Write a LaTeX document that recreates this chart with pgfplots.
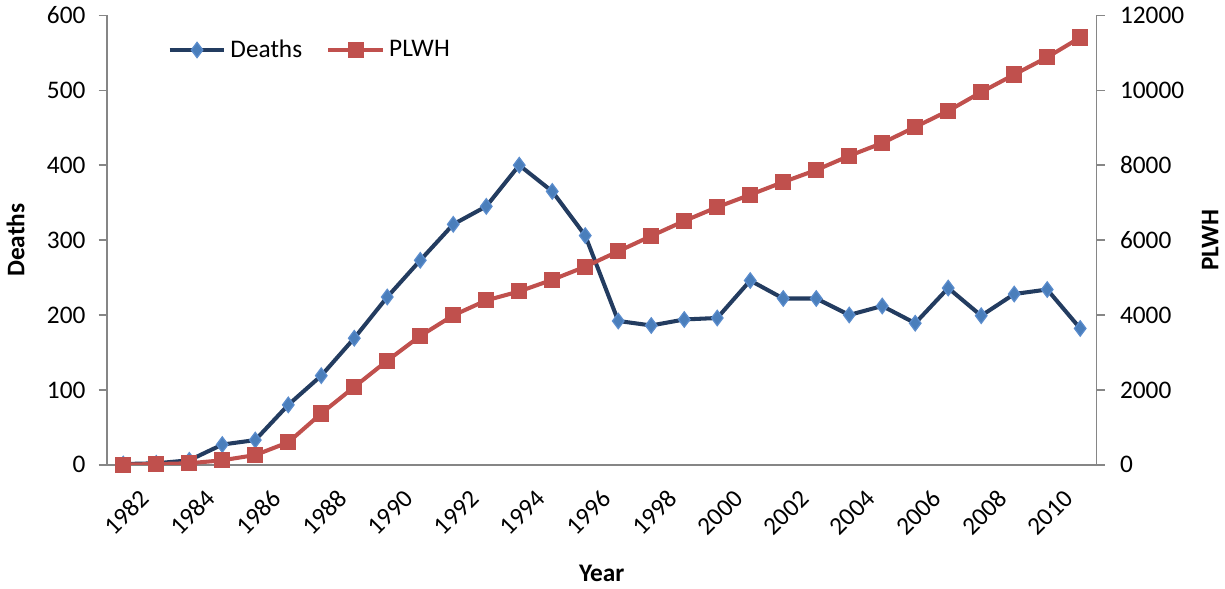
\documentclass[border=0pt]{standalone}
\usepackage{fontspec}
\setmainfont{Carlito}
\usepackage{pgfplots}
\pgfplotsset{compat=1.18}

\definecolor{deathline}{RGB}{35,60,96}
\definecolor{deathmark}{RGB}{74,126,187}
\definecolor{deathedge}{RGB}{90,140,205}
\definecolor{plwhred}{RGB}{192,80,77}
\definecolor{axisgray}{RGB}{134,134,134}

% Deaths (left axis)
\pgfplotstableread{
year deaths
1982 1
1983 2
1984 6
1985 27
1986 33
1987 80
1988 119
1989 169
1990 224
1991 273
1992 321
1993 345
1994 400
1995 365
1996 306
1997 192
1998 186
1999 194
2000 196
2001 246
2002 222
2003 222
2004 200
2005 212
2006 189
2007 236
2008 199
2009 228
2010 234
2011 182
}\deathsdata

% People living with HIV (right axis)
\pgfplotstableread{
year plwh
1982 5
1983 20
1984 40
1985 120
1986 260
1987 600
1988 1370
1989 2080
1990 2780
1991 3440
1992 3990
1993 4390
1994 4630
1995 4940
1996 5290
1997 5700
1998 6110
1999 6510
2000 6880
2001 7210
2002 7550
2003 7870
2004 8250
2005 8590
2006 9020
2007 9450
2008 9950
2009 10420
2010 10880
2011 11410
}\plwhdata

\pgfplotsset{
  common/.style={
    width=489pt, height=222pt, scale only axis,
    xmin=1981.5, xmax=2011.5,
    tick align=outside,
    major tick length=4pt, minor tick length=4pt,
    axis line style={draw=axisgray, line width=0.75pt},
    every tick/.style={draw=axisgray, line width=0.75pt},
    tick label style={font=\fontsize{12.5}{15}\selectfont},
    label style={font=\fontsize{12.5}{15}\selectfont\bfseries},
    /pgf/number format/assume math mode=true,
    /pgf/number format/1000 sep={},
  },
}

\begin{document}
\begin{tikzpicture}
\begin{axis}[common,
  axis x line*=bottom, axis y line*=left,
  ymin=0, ymax=600, ytick={0,100,...,600},
  xtick={1982,1984,...,2010},
  xticklabels={1982,1984,1986,1988,1990,1992,1994,1996,1998,2000,2002,2004,2006,2008,2010},
  xtick style={draw=none},
  minor xtick={1981.5,1982.5,...,2011.5},
  xticklabel style={rotate=45, anchor=east, inner sep=0pt, yshift=-15pt, xshift=0pt},
  yticklabel style={xshift=-3pt},
  xlabel={Year}, ylabel={Deaths},
  xlabel style={at={(rel axis cs:0.5,-0.2410)}, anchor=center},
  ylabel style={at={(rel axis cs:-0.0920,0.5)}, anchor=center},
]
\path[use as bounding box] (rel axis cs:-0.1125,-0.2658) rectangle (rel axis cs:1.1401,1.0473);
\addplot[deathline, line width=2pt, mark=diamond*, mark size=3.8pt,
  mark options={fill=deathmark, draw=deathedge, line width=0.6pt}]
  table[x=year, y=deaths] {\deathsdata};
\end{axis}
\begin{axis}[common,
  axis x line=none, axis y line*=right,
  ymin=0, ymax=12000, ytick={0,2000,...,12000},
  scaled y ticks=false,
  yticklabel style={xshift=4pt},
  ylabel={PLWH},
  ylabel style={at={(rel axis cs:1.1145,0.5)}, anchor=center, rotate=0},
  legend style={draw=none, fill=none, legend columns=2,
    at={(rel axis cs:0.055,0.923)}, anchor=west,
    font=\fontsize{12.5}{15}\selectfont,
    /tikz/every even column/.append style={column sep=10pt}},
  legend image code/.code={
    \draw[mark repeat=2, mark phase=2] plot coordinates {(0pt,0pt) (13.5pt,0pt) (27pt,0pt)};
  },
]
\addlegendimage{deathline, line width=2pt, mark=diamond*, mark size=3.8pt,
  mark options={fill=deathmark, draw=deathedge, line width=0.6pt}}
\addlegendentry{Deaths}
\addplot[plwhred, line width=2pt, mark=square*, mark size=3pt,
  mark options={fill=plwhred, draw=plwhred}]
  table[x=year, y=plwh] {\plwhdata};
\addlegendentry{PLWH}
\end{axis}
\end{tikzpicture}
\end{document}
